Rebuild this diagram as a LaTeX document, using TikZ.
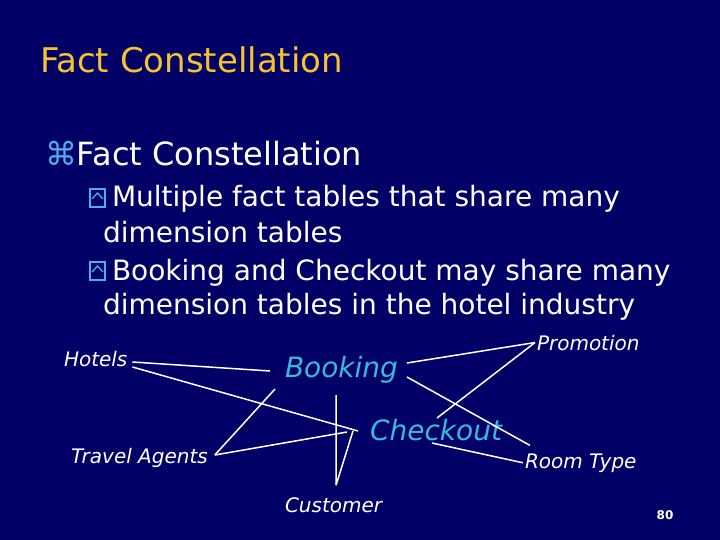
\documentclass[tikz,border=0pt]{standalone}
\usepackage{fontspec}
\setmainfont{DejaVu Sans}[ItalicFont={DejaVu Sans Oblique},BoldFont={DejaVu Sans Bold}]
\definecolor{slidebg}{RGB}{0,0,102}
\definecolor{titlegold}{RGB}{245,195,50}
\definecolor{factcyan}{RGB}{55,185,220}
\definecolor{bulletblue}{RGB}{75,175,235}

\begin{document}
\begin{tikzpicture}[x=1pt, y=-1pt,
    every node/.style={inner sep=0pt, outer sep=0pt, anchor=base west, text=white},
    title/.style={font=\fontsize{34}{40}\selectfont, text=titlegold},
    lone/.style={font=\fontsize{32}{38}\selectfont},
    ltwo/.style={font=\fontsize{28}{34}\selectfont},
    ybox/.style={draw=bulletblue, line width=1.3pt, anchor=south west, minimum width=15pt, minimum height=18pt},
    dimtab/.style={font=\fontsize{20}{24}\selectfont\itshape},
    facttab/.style={font=\fontsize{28}{34}\selectfont\itshape, text=factcyan},
    link/.style={draw=white, line width=1.5pt}]
    \fill[slidebg] (0,0) rectangle (720,540);
    \useasboundingbox (0,0) rectangle (720,540);
    % slide text
    \node[title] (head) at (40,73) {Fact Constellation};
    \node[lone] (item) at (45,166) {\textcolor{bulletblue}{⌘}Fact Constellation};
    \node[ybox] (b1) at (90,207) {};
    \node[ltwo] (sub1) at (112,207) {Multiple fact tables that share many};
    \node[ltwo] (sub1b) at (103,242) {dimension tables};
    \node[ybox] (b2) at (90,280) {};
    \node[ltwo] (sub2) at (112,280) {Booking and Checkout may share many};
    \node[ltwo] (sub2b) at (103,314) {dimension tables in the hotel industry};
    \foreach \b in {b1,b2} {
        \draw[bulletblue, line width=1.3pt] ([shift={(-5.5,1)}]\b.center) -- ([shift={(0,-5)}]\b.center) -- ([shift={(5.5,1)}]\b.center);
    }
    % fact tables
    \node[facttab] (booking) at (285,377) {Booking};
    \node[facttab] (checkout) at (370,440) {Checkout};
    % dimension tables
    \node[dimtab] (hotels) at (64,366) {Hotels};
    \node[dimtab] (agents) at (71,463) {Travel Agents};
    \node[dimtab] (customer) at (285,512) {Customer};
    \node[dimtab] (promotion) at (537,350) {Promotion};
    \node[dimtab] (roomtype) at (525,468) {Room Type};
    \node[font=\bfseries\fontsize{12}{14}\selectfont, anchor=center] (page) at (665,515) {80};
    % links
    \draw[link] ([shift={(5,-4)}]hotels.base east) -- ([shift={(-15,-6)}]booking.base west);
    \draw[link] ([shift={(5,1)}]hotels.base east) -- ([shift={(-12,-9)}]checkout.base west);
    \draw[link] ([shift={(7,-8)}]agents.base east) -- ([shift={(-10,12)}]booking.base west);
    \draw[link] ([shift={(7,-8)}]agents.base east) -- ([shift={(-23,-8)}]checkout.base west);
    \draw[link] ([shift={(51,18)}]booking.base west) -- ([shift={(2.5,-12)}]customer.north);
    \draw[link] ([shift={(2.5,-12)}]customer.north) -- ([shift={(-17,-9)}]checkout.base west);
    \draw[link] ([shift={(9,-14)}]booking.base east) -- ([xshift=-2pt]promotion.west);
    \draw[link] ([shift={(9,0)}]booking.base east) -- ([shift={(5,-8)}]roomtype.north west);
    \draw[link] ([shift={(67,-22)}]checkout.base west) -- ([xshift=-2pt]promotion.west);
    \draw[link] ([shift={(62,3)}]checkout.base west) -- ([xshift=-2pt]roomtype.west);
\end{tikzpicture}
\end{document}
